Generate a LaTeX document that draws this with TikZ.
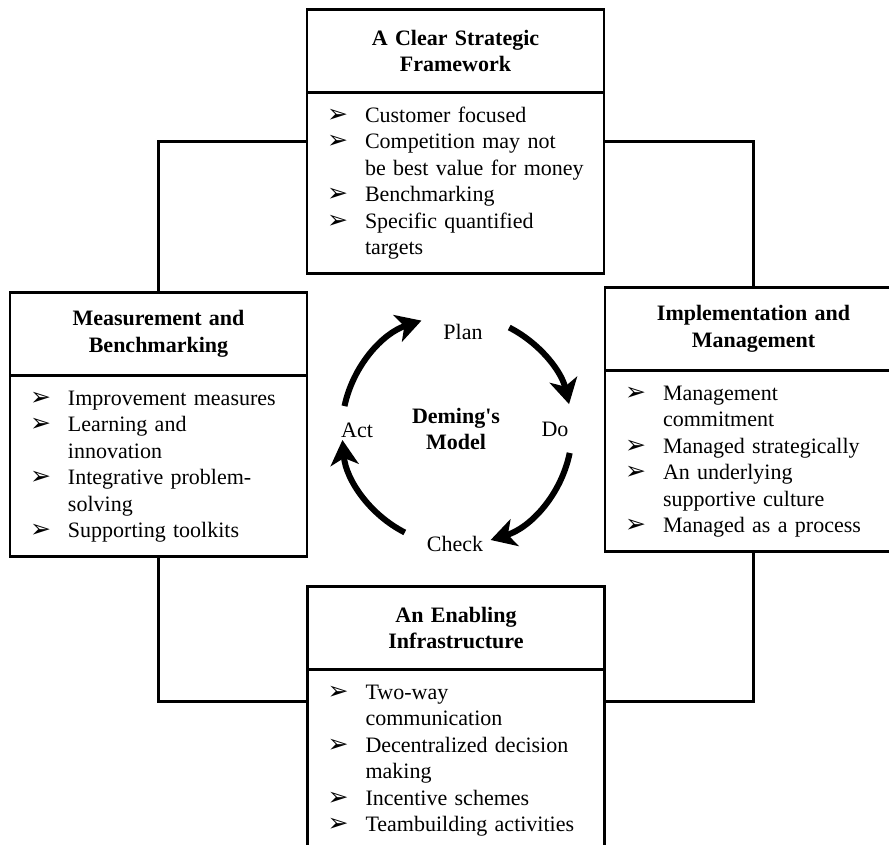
\documentclass[tikz,border=0pt]{standalone}
\usepackage{fontspec}
\setmainfont{Liberation Serif}
\newfontfamily\dingfont{DejaVu Sans}
\usetikzlibrary{positioning,arrows.meta}

\newcommand{\boxfont}{\fontsize{22}{26.5}\selectfont}
\newcommand{\tip}{{\dingfont\fontsize{25}{25}\selectfont ➢}}
\newcommand{\points}[1]{\begin{tabular}{@{}p{38pt}@{}l@{}}#1\end{tabular}}

\tikzset{
  head/.style={draw, line width=2.5pt, outer sep=0pt, minimum width=297pt,
    minimum height=83pt, text width=280pt, align=center, font=\boxfont\bfseries},
  body/.style={draw, line width=2.5pt, outer sep=0pt, minimum width=297pt,
    minimum height=181pt, inner xsep=20pt, text width=257pt, align=left},
  link/.style={line width=2.5pt},
  turn/.style={line width=6pt, -{Stealth[length=25pt, width=28pt, inset=7pt]}}
}

\begin{document}
\begin{tikzpicture}[x=1pt, y=1pt, font=\boxfont]
  \useasboundingbox (0,0) rectangle (889,844);
  \clip (0,0) rectangle (889,844);

  % Define the centre of the cycle
  \def\radius{115}
  \coordinate (hub) at (457,414);

  % Draw the four boxes
  \node[head] (frame-head) at (455.5,793) {A Clear Strategic\\Framework};
  \node[body, below=0pt of frame-head] (frame-body) {\points{
    \tip & Customer focused\\
    \tip & Competition may not\\
         & be best value for money\\
    \tip & Benchmarking\\
    \tip & Specific quantified\\
         & targets}};

  \node[head] (meas-head) at (158.5,510) {Measurement and\\Benchmarking};
  \node[body, below=0pt of meas-head] (meas-body) {\points{
    \tip & Improvement measures\\
    \tip & Learning and\\
         & innovation\\
    \tip & Integrative problem-\\
         & solving\\
    \tip & Supporting toolkits}};

  \node[head] (impl-head) at (753.5,515) {Implementation and\\Management};
  \node[body, below=0pt of impl-head] (impl-body) {\points{
    \tip & Management\\
         & commitment\\
    \tip & Managed strategically\\
    \tip & An underlying\\
         & supportive culture\\
    \tip & Managed as a process}};

  \node[head] (infra-head) at (456,216) {An Enabling\\Infrastructure};
  \node[body, below=0pt of infra-head] (infra-body) {\points{
    \tip & Two-way\\
         & communication\\
    \tip & Decentralized decision\\
         & making\\
    \tip & Incentive schemes\\
    \tip & Teambuilding activities}};

  % Draw the links round the boxes
  \coordinate (cTL) at (158.5,702.5);
  \coordinate (cTR) at (753.5,702.5);
  \coordinate (cBL) at (158.5,142.5);
  \coordinate (cBR) at (753.5,142.5);
  \draw[link] (frame-body.west |- cTL) -- (cTL) -- (meas-head.north);
  \draw[link] (frame-body.east |- cTR) -- (cTR) -- (impl-head.north);
  \draw[link] (meas-body.south) -- (cBL) -- (infra-body.west |- cBL);
  \draw[link] (impl-body.south) -- (cBR) -- (infra-body.east |- cBR);

  % Draw the cycle and its labels
  \node[font=\boxfont\bfseries, align=center] (model) at (456,415) {Deming\textquotesingle s\\Model};
  \node (plan)  at (463,512) {Plan};
  \node (do)    at (555,415) {Do};
  \node (check) at (455,300) {Check};
  \node (act)   at (357,414) {Act};

  \foreach \from/\to in {168/108, 63/13, -11.5/-73, -117/-175}
    \draw[turn] ([shift={(\from:\radius)}]hub) arc[start angle=\from, end angle=\to, radius=\radius];
\end{tikzpicture}
\end{document}
